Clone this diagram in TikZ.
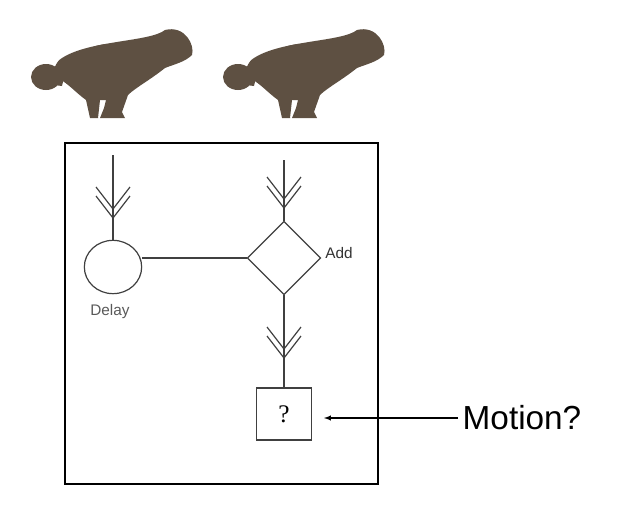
\documentclass[tikz,border=0pt]{standalone}
\usepackage{fontspec}
\setmainfont{Liberation Sans}
\newfontfamily\serifq{Liberation Serif}
\usetikzlibrary{shapes.geometric}
\begin{document}
\begin{tikzpicture}[x=0.75pt,y=-0.75pt,
  ln/.style={draw=black!75,line width=0.9pt},
  pics/chev/.style={code={
    \foreach \d in {0,9}{\draw[ln] (-17,-22-\d) -- (0,-\d) -- (17,-22-\d);}}}]
\definecolor{dogbrown}{HTML}{5E5042}
\useasboundingbox (0,0) rectangle (640,518);
% dogs
\foreach \ox in {0,192}{
\begin{scope}[shift={(\ox,0)}]
\fill[dogbrown] (62,58) .. controls (90,40) and (150,42) .. (165,30) .. controls (185,25) and (195,45) .. (192,55)
 .. controls (185,62) and (175,64) .. (165,68) .. controls (150,80) and (135,88) .. (128,95)
 -- (122,112) -- (125,118) -- (100,118) -- (104,108) -- (106,100) -- (100,100) -- (98,118) -- (90,118) -- (86,100)
 .. controls (75,92) and (70,85) .. (58,78) .. controls (52,72) and (55,62) .. (62,58) -- cycle;
\fill[dogbrown] (46,77) ellipse (15 and 13);
\fill[dogbrown] (55,66) -- (68,60) -- (62,86) -- (46,84) -- cycle;
\fill[dogbrown] (110,68) ellipse (35 and 24);
\end{scope}}
% frame
\draw[line width=1.8pt] (65,143) rectangle (378,484);
\node[ln,ellipse,minimum width=43pt,minimum height=40pt,inner sep=0pt] (delay) at (113,267) {};
\node[ln,diamond,minimum size=55pt,inner sep=0pt] (add) at (284,258) {};
\node[ln,minimum width=41pt,minimum height=39pt,inner sep=0pt,font=\serifq\fontsize{19}{21}\selectfont] (q) at (284,414) {?};
\coordinate (t1) at (113,155);
\coordinate (t2) at (284,160);
\draw[ln] (t1) -- (delay.north);
\draw[ln] (t2) -- (add.north);
\draw[ln] (add.south) -- (q.north);
\draw[ln] (delay.east |- add.west) -- (add.west);
\pic at (113,218) {chev};
\pic at (284,208) {chev};
\pic at (284,358) {chev};
\node[text=black!65,font=\fontsize{11.5}{13}\selectfont] (dl) at (110,312) {Delay};
\node[text=black!80,font=\fontsize{11.5}{13}\selectfont] (al) at (339,253) {Add};
\node[font=\fontsize{25}{28}\selectfont,anchor=west] (m) at (458,418) {Motion?};
\draw[-latex,line width=0.8pt] (m.west) -- (324,418);
\end{tikzpicture}
\end{document}
